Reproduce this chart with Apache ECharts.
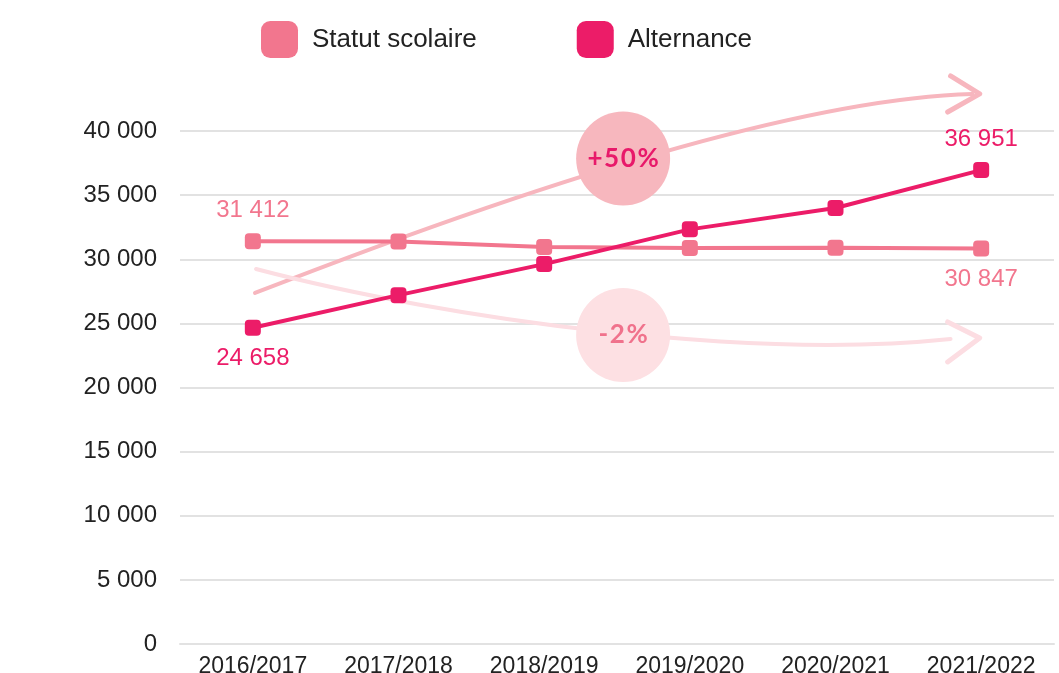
<!DOCTYPE html>
<html>
<head>
<meta charset="utf-8">
<script src="https://cdn.jsdelivr.net/npm/echarts@6/dist/echarts.min.js"></script>
<style>
  html, body { margin: 0; padding: 0; background: #fff; overflow: hidden; }
  #chart { width: 1059px; height: 673px; }
</style>
</head>
<body>
<div id="chart"></div>
<script>
const categories = ['2016/2017', '2017/2018', '2018/2019', '2019/2020', '2020/2021', '2021/2022']
const statutScolaire = [31412, 31390, 30950, 30880, 30900, 30847]
const alternance = [24658, 27200, 29620, 32330, 34000, 36951]
const seriesNames = ['Statut scolaire', 'Alternance']

const PINK = '#f2768e'
const MAGENTA = '#ec1c68'
const FONT = '"Liberation Sans", Arial, sans-serif'

const fmt = v => String(Math.round(v)).replace(/\B(?=(\d{3})+(?!\d))/g, ' ')

// labels only on the first and last points
function withEndLabels(values, color, firstPos, lastPos) {
  return values.map((v, i) => {
    const pos = i === 0 ? firstPos : (i === values.length - 1 ? lastPos : null)
    if (!pos) return v
    return {
      value: v,
      label: { show: true, position: pos, distance: 11, color, fontSize: 24, fontFamily: FONT, formatter: p => fmt(p.value) },
    }
  })
}

const chart = echarts.init(document.getElementById('chart'))

chart.setOption({
  animation: false,
  legend: {
    left: 261,
    top: 21,
    padding: 0,
    itemWidth: 37,
    itemHeight: 37,
    itemGap: 100,
    icon: 'roundRect',
    textStyle: { fontSize: 26, color: '#222', fontFamily: FONT, padding: [0, 0, 0, 9] },
    data: seriesNames,
  },
  grid: { left: 180, right: 5, top: 131, bottom: 29, outerBoundsMode: 'none' },
  xAxis: {
    type: 'category',
    data: categories,
    axisLine: { lineStyle: { color: '#e2e2e2', width: 2 } },
    axisTick: { alignWithLabel: true, inside: true, length: 13, lineStyle: { color: '#dcdcdc', width: 1.5 } },
    axisLabel: { color: '#222', fontSize: 23, fontFamily: FONT, margin: 11 },
  },
  yAxis: {
    type: 'value',
    min: 0,
    max: 40000,
    interval: 5000,
    axisLabel: { color: '#222', fontSize: 24, fontFamily: FONT, margin: 23, formatter: fmt },
    splitLine: { lineStyle: { color: '#e2e2e2', width: 2 } },
  },
  series: [
    {
      name: seriesNames[0],
      type: 'line',
      data: withEndLabels(statutScolaire, PINK, 'top', 'bottom'),
      symbol: 'roundRect',
      symbolSize: 16,
      lineStyle: { color: PINK, width: 4 },
      itemStyle: { color: PINK },
      z: 3,
    },
    {
      name: seriesNames[1],
      type: 'line',
      data: withEndLabels(alternance, MAGENTA, 'bottom', 'top'),
      symbol: 'roundRect',
      symbolSize: 16,
      lineStyle: { color: MAGENTA, width: 4 },
      itemStyle: { color: MAGENTA },
      z: 4,
    },
  ],
})

// annotation arrows + growth bubbles, placed in data space (category position, value)
function toPx(c, v) {
  const x0 = chart.convertToPixel({ xAxisIndex: 0 }, 0)
  const x1 = chart.convertToPixel({ xAxisIndex: 0 }, 1)
  return [x0 + c * (x1 - x0), chart.convertToPixel({ yAxisIndex: 0 }, v)]
}

const last = categories.length - 1
const growthAlt = Math.round((alternance[last] / alternance[0] - 1) * 100)
const growthStat = Math.round((statutScolaire[last] / statutScolaire[0] - 1) * 100)
// spaced out a bit, like the original badge lettering
const pct = g => ((g > 0 ? '+' : '-') + Math.abs(g) + '%').split('').join('\u200A')

function arrow(pts, chev, color) {
  const [a, b, c, d] = pts.map(p => toPx(p[0], p[1]))
  const shape = { x1: a[0], y1: a[1], cpx1: b[0], cpy1: b[1], x2: d ? d[0] : c[0], y2: d ? d[1] : c[1] }
  if (d) { shape.cpx2 = c[0]; shape.cpy2 = c[1] }
  return [
    { type: 'bezierCurve', shape, style: { stroke: color, lineWidth: 4, fill: null, lineCap: 'round' }, z: 1 },
    { type: 'polyline', shape: { points: chev.map(p => toPx(p[0], p[1])) }, style: { stroke: color, lineWidth: 5, fill: null, lineCap: 'round', lineJoin: 'round' }, z: 1 },
  ]
}

function bubble(c, v, fill, text, color) {
  const [x, y] = toPx(c, v)
  return [
    { type: 'circle', shape: { cx: x, cy: y, r: 47 }, style: { fill }, z: 1 },
    { type: 'text', x, y, style: { text, align: 'center', verticalAlign: 'middle', fill: color, fontSize: 26, fontWeight: 'bold', fontFamily: 'Lato, "Open Sans", sans-serif' }, z: 1 },
  ]
}

chart.setOption({
  graphic: [
    ...arrow([[0.015, 27370], [3.414, 42420], [4.94, 42890]], [[4.79, 44290], [4.99, 42890], [4.77, 41480]], '#f7b6be'),
    ...arrow([[0.022, 29240], [1.354, 25260], [3.414, 22140], [4.79, 23780]], [[4.77, 25110], [4.99, 23860], [4.77, 21990]], '#fcdde2'),
    ...bubble(2.542, 37856, '#f7b7be', pct(growthAlt), '#e8196a'),
    ...bubble(2.542, 24094, '#fde0e3', pct(growthStat), '#f0728c'),
  ],
})
</script>
</body>
</html>
